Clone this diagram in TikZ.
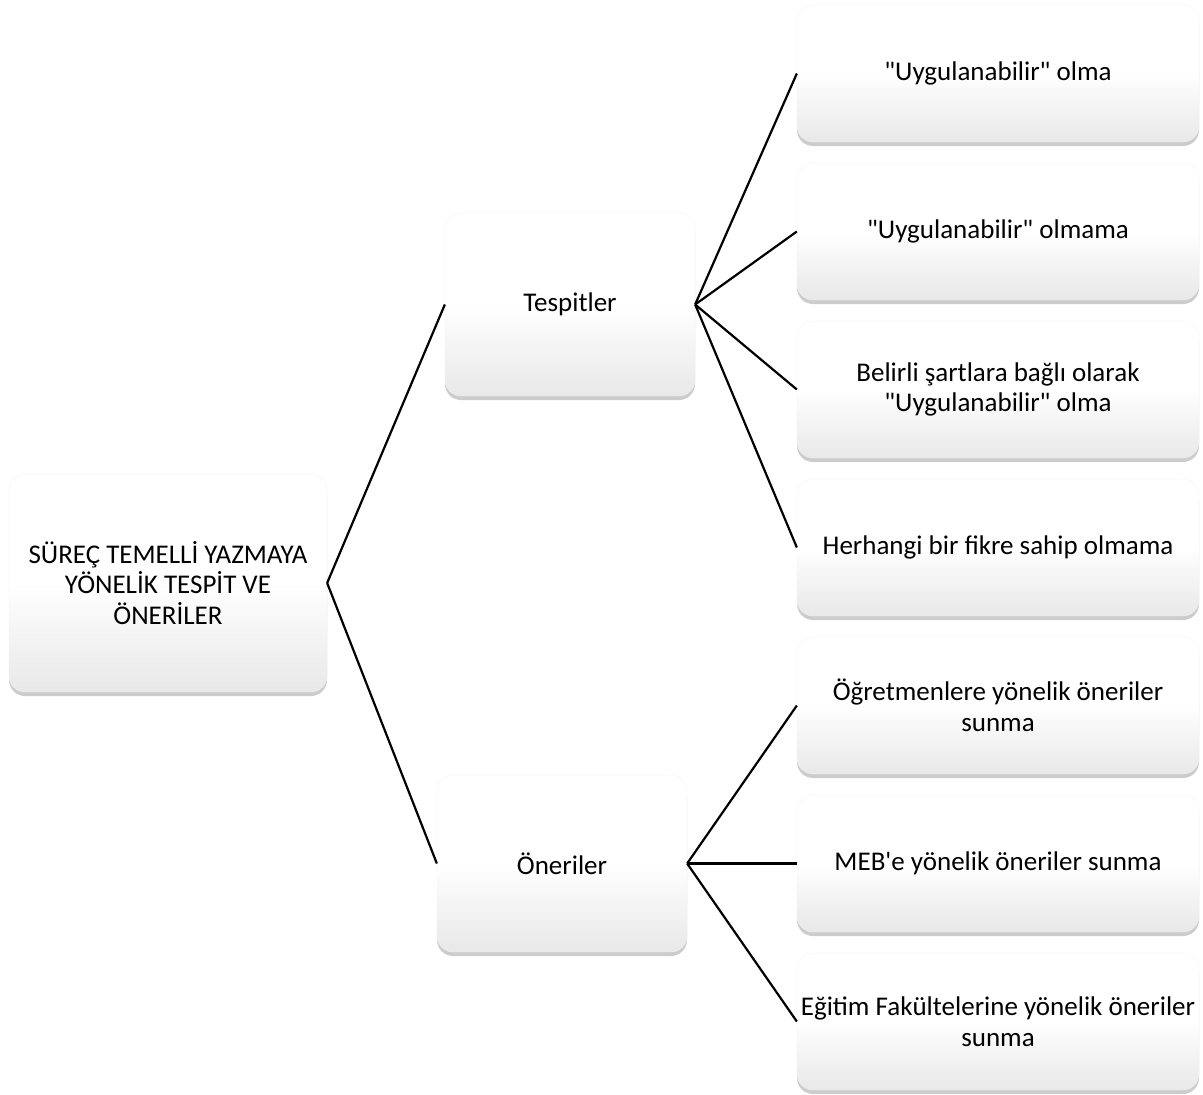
\documentclass[tikz,border=0pt]{standalone}
\usepackage{fontspec}
\setmainfont{Carlito}[Ligatures=TeXOff]
\usetikzlibrary{shadows}
\begin{document}
\begin{tikzpicture}[x=1pt,y=-1pt,
  box/.style={rectangle, rounded corners=16pt, align=center,
    font=\fontsize{27}{30.5}\selectfont,
    top color=white, bottom color=gray!18, middle color=white,
    draw=gray!10, line width=0.3pt, inner sep=0pt,
    drop shadow={shadow xshift=0pt, shadow yshift=-4pt, opacity=0.5, fill=gray!80}},
  rbox/.style={box, minimum width=402pt, minimum height=137pt},
  conn/.style={line width=2.2pt, black}]
\useasboundingbox (0,0) rectangle (1203,1095);
\node[box, minimum width=318pt, minimum height=218pt] (root) at (168,583) {SÜREÇ TEMELLİ YAZMAYA\\YÖNELİK TESPİT VE\\ÖNERİLER};
\node[box, minimum width=250pt, minimum height=183pt] (tes) at (570,304.5) {Tespitler};
\node[box, minimum width=250pt, minimum height=177pt] (one) at (562,863.5) {Öneriler};
\node[rbox] (r1) at (998,73.5) {"Uygulanabilir" olma};
\node[rbox] (r2) at (998,231.5) {"Uygulanabilir" olmama};
\node[rbox] (r3) at (998,389.5) {Belirli şartlara bağlı olarak\\"Uygulanabilir" olma};
\node[rbox] (r4) at (998,547.5) {Herhangi bir fikre sahip olmama};
\node[rbox] (r5) at (998,705.5) {Öğretmenlere yönelik öneriler\\sunma};
\node[rbox] (r6) at (998,863.5) {MEB'e yönelik öneriler sunma};
\node[rbox] (r7) at (998,1021.5) {Eğitim Fakültelerine yönelik öneriler\\sunma};
\draw[conn] (root.east) -- (tes.west);
\draw[conn] (root.east) -- (one.west);
\foreach \r in {r1,r2,r3,r4} \draw[conn] (tes.east) -- (\r.west);
\foreach \r in {r5,r6,r7} \draw[conn] (one.east) -- (\r.west);
\end{tikzpicture}
\end{document}
